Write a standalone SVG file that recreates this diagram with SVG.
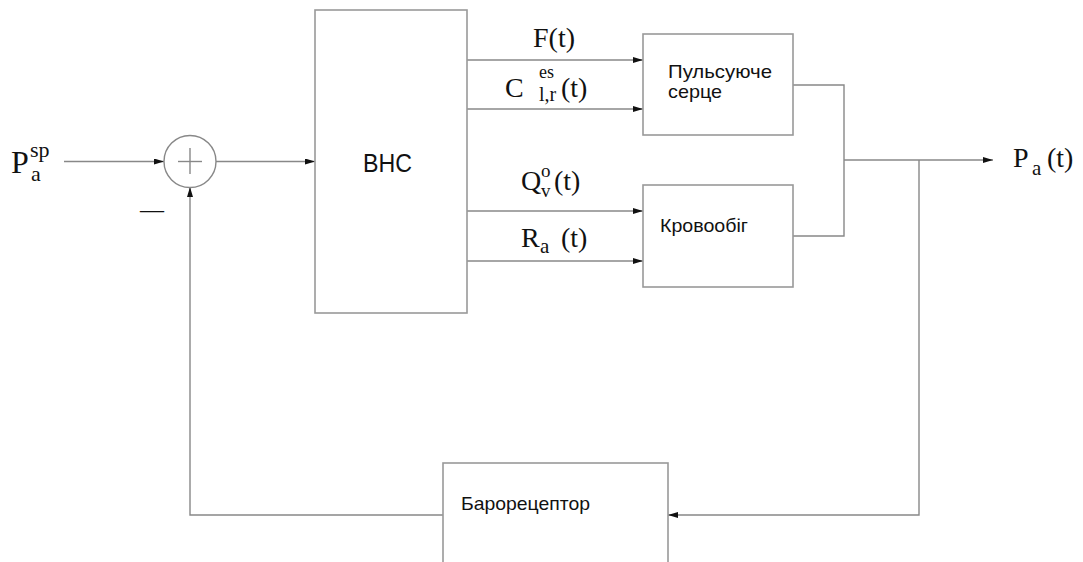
<svg xmlns="http://www.w3.org/2000/svg" width="1083" height="562" viewBox="0 0 1083 562">
<style>
.box{fill:#fff;stroke:#999;stroke-width:1.6}
.ln{fill:none;stroke:#888;stroke-width:1.4}
.ser{font-family:"Liberation Serif","Times New Roman",serif;fill:#111}
.san{font-family:"Liberation Sans",Arial,sans-serif;fill:#111}
.lbl{font-size:19px}
</style>
<defs>
<marker id="ah" viewBox="0 0 10 6" refX="10" refY="3" markerWidth="10" markerHeight="6" markerUnits="userSpaceOnUse" orient="auto">
<path d="M0,0 L10,3 L0,6 Z" fill="#111"/>
</marker>
</defs>
<rect width="1083" height="562" fill="#fff"/>
<g id="connectors">
<line class="ln" x1="64" y1="161.5" x2="164" y2="161.5" marker-end="url(#ah)"/>
<line class="ln" x1="216" y1="161.5" x2="315" y2="161.5" marker-end="url(#ah)"/>
<line class="ln" x1="467" y1="60" x2="643" y2="60" marker-end="url(#ah)"/>
<line class="ln" x1="467" y1="109" x2="643" y2="109" marker-end="url(#ah)"/>
<line class="ln" x1="467" y1="211" x2="643" y2="211" marker-end="url(#ah)"/>
<line class="ln" x1="467" y1="261" x2="643" y2="261" marker-end="url(#ah)"/>
<polyline class="ln" points="793,85 844,85 844,236 793,236"/>
<line class="ln" x1="844" y1="160" x2="993" y2="160" marker-end="url(#ah)"/>
<polyline class="ln" points="919,160 919,515 668,515" marker-end="url(#ah)"/>
<polyline class="ln" points="443,515 190,515 190,187" marker-end="url(#ah)"/>
</g>
<g id="input-label">
<text class="ser" x="11" y="173" font-size="32">P</text>
<text class="ser" x="30" y="157" font-size="22">sp</text>
<text class="ser" x="31" y="181" font-size="22">a</text>
<text class="ser" x="140" y="217" font-size="24">—</text>
</g>
<g id="summer">
<circle cx="190" cy="161.5" r="26" fill="#fff" stroke="#888" stroke-width="1.4"/>
<line class="ln" x1="178" y1="161.5" x2="202" y2="161.5"/>
<line class="ln" x1="190" y1="148" x2="190" y2="174"/>
</g>
<g id="bhc">
<rect class="box" x="315" y="10" width="152" height="303"/>
<text class="san" x="363" y="172" font-size="25" textLength="49" lengthAdjust="spacingAndGlyphs">ВНС</text>
</g>
<g id="signal-labels">
<text class="ser" x="533" y="47" font-size="28">F(t)</text>
<text class="ser" x="505" y="97" font-size="28">C</text>
<text class="ser" x="539" y="78" font-size="18">es</text>
<text class="ser" x="539" y="101" font-size="20">l,r</text>
<text class="ser" x="561" y="97" font-size="28">(t)</text>
<text class="ser" x="521" y="190" font-size="28">Q</text>
<text class="ser" x="541" y="177" font-size="19">o</text>
<text class="ser" x="541" y="197" font-size="19">v</text>
<text class="ser" x="554" y="190" font-size="28">(t)</text>
<text class="ser" x="521" y="247" font-size="28">R</text>
<text class="ser" x="540" y="253" font-size="21">a</text>
<text class="ser" x="561" y="247" font-size="28">(t)</text>
</g>
<g id="heart">
<rect class="box" x="643" y="34" width="150" height="101"/>
<text class="san lbl" x="668" y="78" textLength="104" lengthAdjust="spacingAndGlyphs">Пульсуюче</text>
<text class="san lbl" x="668" y="98" textLength="54" lengthAdjust="spacingAndGlyphs">серце</text>
</g>
<g id="circulation">
<rect class="box" x="643" y="185" width="150" height="102"/>
<text class="san lbl" x="660" y="232" textLength="88" lengthAdjust="spacingAndGlyphs">Кровообіг</text>
</g>
<g id="output-label">
<text class="ser" x="1013" y="167" font-size="28">P</text>
<text class="ser" x="1032" y="175" font-size="21">a</text>
<text class="ser" x="1047" y="167" font-size="28">(t)</text>
</g>
<g id="baroreceptor">
<rect class="box" x="443" y="463" width="225" height="110"/>
<text class="san lbl" x="461" y="510" textLength="129" lengthAdjust="spacingAndGlyphs">Барорецептор</text>
</g>
</svg>
